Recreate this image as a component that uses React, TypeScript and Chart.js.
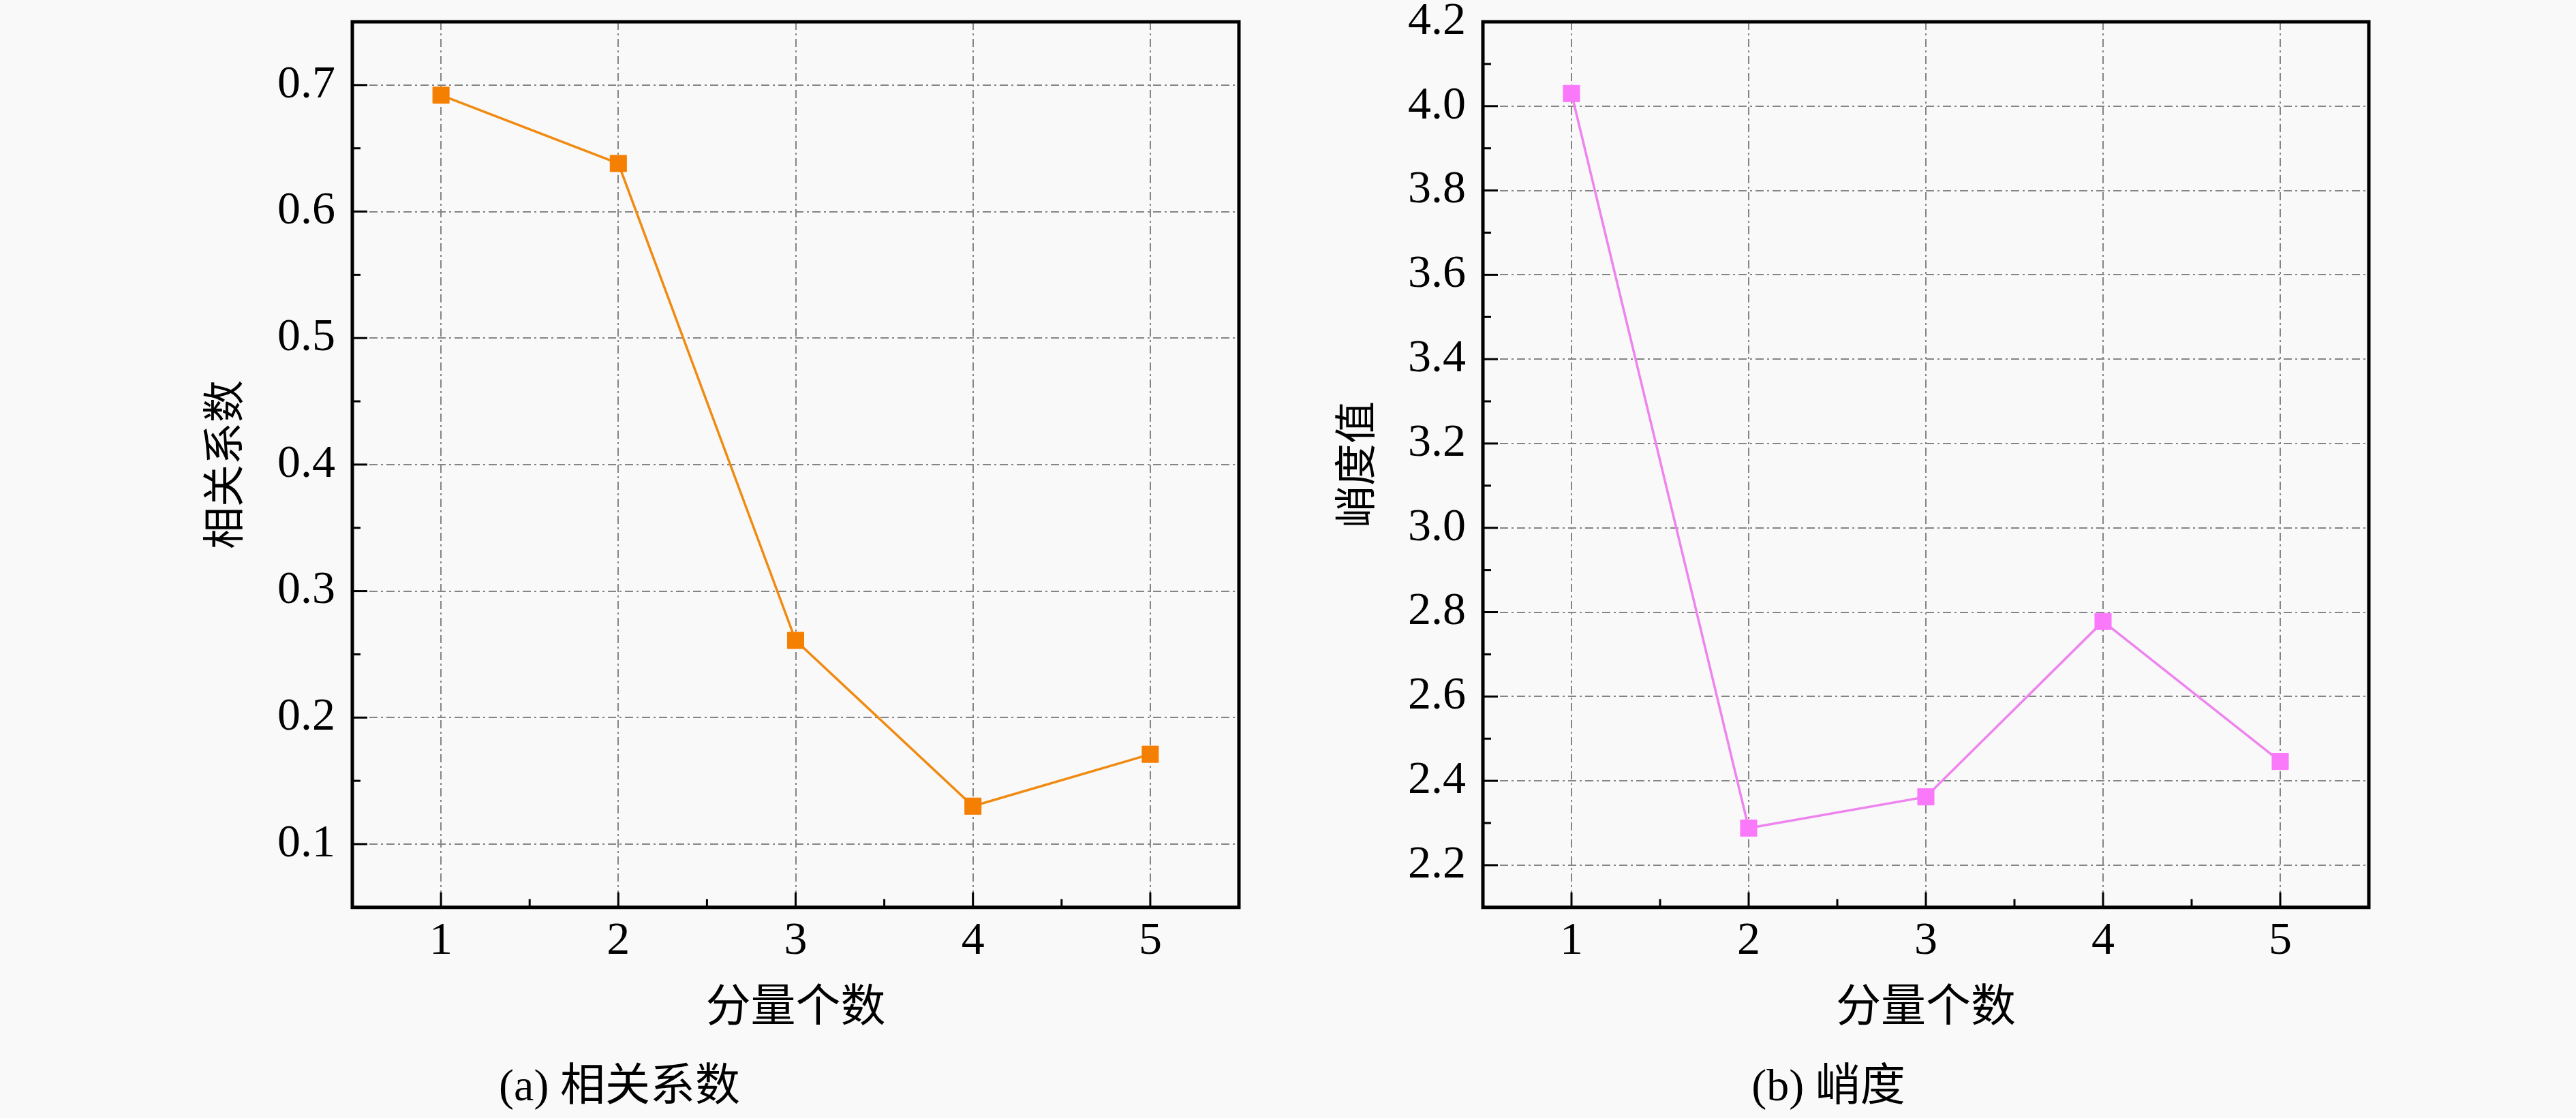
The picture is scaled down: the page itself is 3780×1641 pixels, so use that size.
import { useEffect, useRef } from 'react'
import { Chart, registerables } from 'chart.js'

Chart.register(...registerables)

// data
const componentCounts = [1, 2, 3, 4, 5]
const correlation = [0.692, 0.638, 0.261, 0.13, 0.171]
const kurtosis = [4.03, 2.288, 2.362, 2.778, 2.446]

// tick positions
const xTicks = [1, 2, 3, 4, 5]
const xMinorTicks = [1.5, 2.5, 3.5, 4.5]
const corrTicks = [0.1, 0.2, 0.3, 0.4, 0.5, 0.6, 0.7]
const corrMinorTicks = [0.15, 0.25, 0.35, 0.45, 0.55, 0.65]
const kurtTicks = [2.2, 2.4, 2.6, 2.8, 3.0, 3.2, 3.4, 3.6, 3.8, 4.0, 4.2]
const kurtMinorTicks = [2.3, 2.5, 2.7, 2.9, 3.1, 3.3, 3.5, 3.7, 3.9, 4.1]

const SERIF = "'Liberation Serif', 'Times New Roman', serif"
const MIXED = "'Liberation Serif', 'Noto Sans CJK SC', serif"

// frame round the plot area plus inward tick marks
const framePlugin = {
  id: 'frame',
  afterDraw(chart: any, _args: any, opts: any) {
    const { ctx, chartArea } = chart
    const { left, right, top, bottom } = chartArea
    const xs = chart.scales.x
    const ys = chart.scales.y
    ctx.save()
    ctx.strokeStyle = '#000'
    ctx.lineWidth = 3
    const tick = (v: number, len: number, horiz: boolean) => {
      ctx.beginPath()
      if (horiz) {
        const px = xs.getPixelForValue(v)
        ctx.moveTo(px, bottom)
        ctx.lineTo(px, bottom - len)
      } else {
        const py = ys.getPixelForValue(v)
        ctx.moveTo(left, py)
        ctx.lineTo(left + len, py)
      }
      ctx.stroke()
    }
    xTicks.forEach((v) => tick(v, 22, true))
    xMinorTicks.forEach((v) => tick(v, 12, true))
    opts.yMajor.forEach((v: number) => tick(v, 22, false))
    opts.yMinor.forEach((v: number) => tick(v, 12, false))
    ctx.lineWidth = 5
    ctx.strokeRect(left, top, right - left, bottom - top)
    ctx.restore()
  },
}

interface PanelProps {
  values: number[]
  color: string
  lineColor: string
  yMin: number
  yMax: number
  yMajor: number[]
  yMinor: number[]
  yTitle: string
  caption: string
  axisWidth: number
  padRight: number
  yTitleOffset: number
}

function Panel(p: PanelProps) {
  const canvasRef = useRef<HTMLCanvasElement>(null)
  const chartRef = useRef<Chart | null>(null)

  useEffect(() => {
    if (!canvasRef.current) return
    if (chartRef.current) chartRef.current.destroy()

    chartRef.current = new Chart(canvasRef.current, {
      type: 'line',
      data: {
        datasets: [
          {
            data: componentCounts.map((x, i) => ({ x, y: p.values[i] })),
            borderColor: p.lineColor,
            borderWidth: 3.5,
            pointStyle: 'rect',
            pointRadius: 17,
            pointBackgroundColor: p.color,
            pointBorderColor: p.color,
            pointBorderWidth: 1,
            tension: 0,
          },
        ],
      },
      plugins: [framePlugin],
      options: {
        animation: false,
        responsive: true,
        maintainAspectRatio: false,
        layout: { padding: { top: 32, left: 0, right: p.padRight, bottom: 0 } },
        plugins: {
          legend: { display: false },
          tooltip: { enabled: false },
          title: {
            display: true,
            position: 'bottom',
            text: p.caption,
            color: '#000',
            font: { family: MIXED, size: 66, weight: 'normal' },
            padding: { top: 37, bottom: 4 },
          },
          frame: { yMajor: p.yMajor, yMinor: p.yMinor },
        } as any,
        scales: {
          x: {
            type: 'linear',
            min: 0.5,
            max: 5.5,
            afterBuildTicks: (scale: any) => {
              scale.ticks = xTicks.map((value) => ({ value }))
            },
            afterFit: (scale: any) => {
              scale.height = 189
              scale.paddingLeft = 0
              scale.paddingRight = 0
            },
            grid: { color: '#858585', lineWidth: 2, drawTicks: false },
            border: { display: false, dash: [12, 5, 3, 5] },
            ticks: {
              padding: 10,
              color: '#000',
              font: { family: SERIF, size: 68 },
              callback: (v: any) => String(v),
            },
            title: {
              display: true,
              text: '分量个数',
              color: '#000',
              font: { family: MIXED, size: 66 },
              padding: { top: 0, bottom: 0 },
            },
          },
          y: {
            type: 'linear',
            min: p.yMin,
            max: p.yMax,
            afterBuildTicks: (scale: any) => {
              scale.ticks = p.yMajor.map((value) => ({ value }))
            },
            afterFit: (scale: any) => {
              scale.width = p.axisWidth
              scale.paddingTop = 0
              scale.paddingBottom = 0
            },
            grid: { color: '#858585', lineWidth: 2, drawTicks: false },
            border: { display: false, dash: [12, 5, 3, 5] },
            ticks: {
              padding: 25,
              color: '#000',
              font: { family: SERIF, size: 68 },
              callback: (v: any) => Number(v).toFixed(1),
            },
            title: {
              display: true,
              text: p.yTitle,
              color: '#000',
              font: { family: MIXED, size: 62 },
              padding: { top: p.yTitleOffset, bottom: 0 },
            },
          },
        },
      },
    })

    return () => {
      if (chartRef.current) {
        chartRef.current.destroy()
        chartRef.current = null
      }
    }
  }, [])

  return (
    <div style={{ position: 'relative', width: 1890, height: 1641 }}>
      <canvas ref={canvasRef}></canvas>
    </div>
  )
}

export default function App() {
  return (
    <div
      style={{
        position: 'absolute',
        left: 0,
        top: 0,
        width: 3780,
        height: 1641,
        background: '#f9f9f9',
        display: 'flex',
      }}
    >
      <Panel
        values={correlation}
        color="#f57f00"
        lineColor="#f08a10"
        yMin={0.05}
        yMax={0.75}
        yMajor={corrTicks}
        yMinor={corrMinorTicks}
        yTitle="相关系数"
        caption="(a) 相关系数"
        axisWidth={517}
        padRight={72}
        yTitleOffset={298}
      />
      <Panel
        values={kurtosis}
        color="#fa78fa"
        lineColor="#ee84ee"
        yMin={2.1}
        yMax={4.2}
        yMajor={kurtTicks}
        yMinor={kurtMinorTicks}
        yTitle="峭度值"
        caption="(b) 峭度"
        axisWidth={286}
        padRight={304}
        yTitleOffset={69}
      />
    </div>
  )
}
